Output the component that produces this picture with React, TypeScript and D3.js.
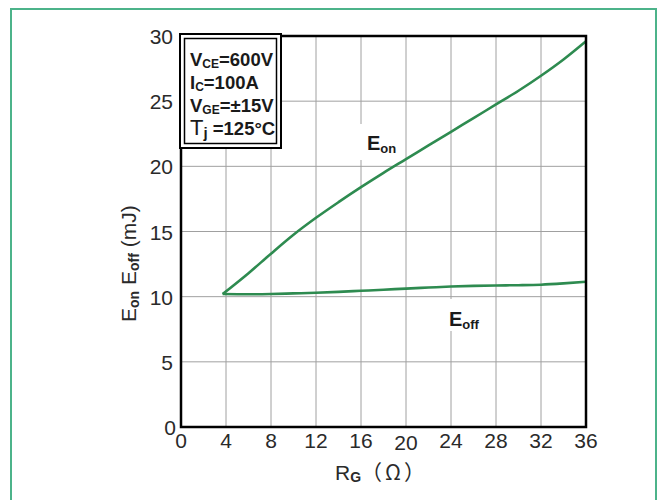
import React from "react";
import * as d3 from "d3";

const rgOn = [3.7, 6, 8, 10, 12, 14, 16, 18, 20, 22, 24, 26, 28, 30, 32, 34, 36];
const eOn = [10.2, 11.8, 13.3, 14.75, 16.05, 17.25, 18.4, 19.5, 20.55, 21.6, 22.65, 23.7, 24.75, 25.8, 26.95, 28.2, 29.6];
const rgOff = [3.7, 6, 8, 10, 12, 14, 16, 18, 20, 22, 24, 26, 28, 30, 32, 34, 36];
const eOff = [10.2, 10.18, 10.2, 10.25, 10.3, 10.37, 10.45, 10.53, 10.62, 10.7, 10.78, 10.83, 10.86, 10.88, 10.92, 11.02, 11.15];
const xTicks = [0, 4, 8, 12, 16, 20, 24, 28, 32, 36];
const yTicks = [0, 5, 10, 15, 20, 25, 30];

export default function App() {
  const W = 660, H = 500;
  const x = d3.scaleLinear().domain([0, 36]).range([181, 586]);
  const y = d3.scaleLinear().domain([0, 30]).range([427, 36]);
  const line = d3.line<[number, number]>().x(d => x(d[0])).y(d => y(d[1])).curve(d3.curveMonotoneX);
  const onPts = rgOn.map((r, i) => [r, eOn[i]] as [number, number]);
  const offPts = rgOff.map((r, i) => [r, eOff[i]] as [number, number]);
  const font = "'Liberation Sans', Arial, sans-serif";
  const green = "#2e8b50";
  const grid = "#a0a0a0";
  return (
    <svg width={W} height={H} style={{ position: "absolute", left: 0, top: 0 }} fontFamily={font}>
      <rect x={0} y={0} width={W} height={H} fill="#fff" />
      <rect x={11} y={9} width={645} height={500} fill="none" stroke="#4cb38a" strokeWidth={2} />
      {xTicks.slice(1, -1).map(t => (
        <line key={"gx" + t} x1={x(t)} x2={x(t)} y1={y(30)} y2={y(0)} stroke={grid} strokeWidth={1} />
      ))}
      {yTicks.slice(1, -1).map(t => (
        <line key={"gy" + t} x1={x(0)} x2={x(36)} y1={y(t)} y2={y(t)} stroke={grid} strokeWidth={1} />
      ))}
      {/* label backgrounds */}
      <rect x={356} y={124} width={44} height={36} fill="#fff" />
      <rect x={440} y={299} width={42} height={32} fill="#fff" />
      <path d={line(onPts) || ""} fill="none" stroke={green} strokeWidth={2.6} />
      <path d={line(offPts) || ""} fill="none" stroke={green} strokeWidth={2.6} />
      <rect x={x(0)} y={y(30)} width={x(36) - x(0)} height={y(0) - y(30)} fill="none" stroke="#000" strokeWidth={2.5} />
      {/* legend box */}
      <rect x={180} y={34} width={101} height={114} fill="#fff" stroke="#000" strokeWidth={2} />
      <rect x={184.5} y={38.5} width={92} height={105} fill="none" stroke="#000" strokeWidth={1.5} />
      <g fontWeight="bold" fontSize={18.5} fill="#1a1a1a">
        <text x={190} y={66}>V<tspan fontSize={12} dy={2}>CE</tspan><tspan dy={-2}>=600V</tspan></text>
        <text x={190} y={89}>I<tspan fontSize={12} dy={2}>C</tspan><tspan dy={-2}>=100A</tspan></text>
        <text x={190} y={112}>V<tspan fontSize={12} dy={2}>GE</tspan><tspan dy={-2}>=±15V</tspan></text>
        <text x={190} y={135}><tspan fontWeight="normal" fontSize={22}>T</tspan><tspan fontSize={15} dy={3}>j</tspan><tspan dy={-3}> =125°C</tspan></text>
      </g>
      <text x={367} y={150} fontWeight="bold" fontSize={20} fill="#1a1a1a">E<tspan fontSize={13} dy={3}>on</tspan></text>
      <text x={449} y={326} fontWeight="bold" fontSize={20} fill="#1a1a1a">E<tspan fontSize={13} dy={3}>off</tspan></text>
      <g fontSize={21} fill="#2a2a2a">
        {yTicks.map(t => (
          <text key={"yt" + t} x={t === 0 ? 176 : 173} y={y(t) + 8} textAnchor="end">{t}</text>
        ))}
        {xTicks.map(t => (
          <text key={"xt" + t} x={x(t)} y={t === 20 ? 450 : 448} textAnchor="middle">{t}</text>
        ))}
      </g>
      <text x={335} y={480} fontSize={21} fill="#2a2a2a">R<tspan fontSize={14} fontWeight="bold" dy={2}>G</tspan><tspan dy={-2} fontSize={21} letterSpacing={3} fontFamily="'Noto Sans CJK SC', sans-serif">（Ω）</tspan></text>
      <text transform="translate(136,322) rotate(-90)" fontSize={21} fill="#2a2a2a">E<tspan fontSize={14} fontWeight="bold" dy={3}>on</tspan><tspan dy={-3}> E</tspan><tspan fontSize={14} fontWeight="bold" dy={3}>off</tspan><tspan dy={-3}> (mJ)</tspan></text>
    </svg>
  );
}
